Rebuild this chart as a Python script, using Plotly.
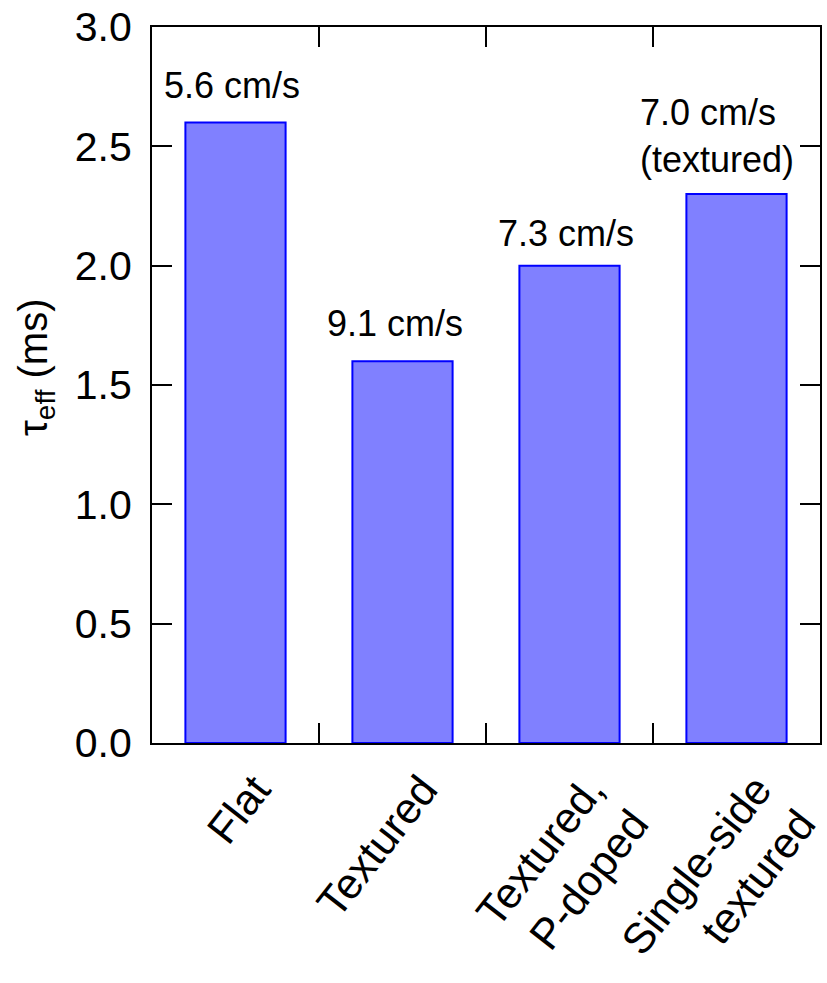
import plotly.graph_objects as go

categories = ["Flat", "Textured", "Textured,<br>P-doped", "Single-side<br>textured"]
tau_eff_ms = [2.6, 1.6, 2.0, 2.3]
srv_labels = ["5.6 cm/s", "9.1 cm/s", "7.3 cm/s", "7.0 cm/s<br>(textured)"]
y_ticks = [0.0, 0.5, 1.0, 1.5, 2.0, 2.5, 3.0]
y_title = "τ<sub>eff</sub> (ms)"

FONT = "Arial, 'Liberation Sans', sans-serif"

# label offsets (px) above bar tops, and horizontal nudges
label_yshift = [37, 38, 32, 58]
label_xshift = [-4, -8, -4, -20]
label_align = ["center", "center", "center", "left"]

fig = go.Figure()
fig.add_trace(go.Bar(
    x=categories, y=tau_eff_ms,
    marker=dict(color="#8080ff", line=dict(color="#0000ff", width=2)),
    width=0.6,
))

for c, v, t, ys, xs, al in zip(categories, tau_eff_ms, srv_labels, label_yshift, label_xshift, label_align):
    fig.add_annotation(x=c, y=v, text=t, showarrow=False, yanchor="middle",
                       yshift=ys, xshift=xs, align=al,
                       font=dict(family=FONT, size=36, color="black"))

# y-axis title as a rotated annotation (sits slightly above the plot centre)
fig.add_annotation(xref="paper", yref="paper", x=0, y=0.5, text=y_title,
                   textangle=-90, showarrow=False, xanchor="center", yanchor="middle",
                   xshift=-116, yshift=18,
                   font=dict(family=FONT, size=40, color="black"))

fig.update_layout(
    width=827, height=983,
    margin=dict(l=152, r=7, t=27, b=240),
    plot_bgcolor="white", paper_bgcolor="white",
    showlegend=False,
    font=dict(family=FONT, color="black"),
)
fig.update_xaxes(
    automargin=False, ticklabeloverflow="allow",
    showline=True, linecolor="black", linewidth=2, mirror="ticks",
    ticks="inside", ticklen=20, tickwidth=2, tickcolor="black",
    tickson="boundaries", tickangle=-52,
    ticklabelstandoff=2, ticklabelshift=20,
    tickfont=dict(family=FONT, size=43, color="black"),
    showgrid=False,
)
fig.update_yaxes(
    automargin=False, ticklabeloverflow="allow",
    range=[0, 3], tickvals=y_ticks, ticktext=[f"{v:.1f}" for v in y_ticks],
    showline=True, linecolor="black", linewidth=2, mirror="ticks",
    ticks="inside", ticklen=20, tickwidth=2, tickcolor="black",
    ticklabelstandoff=10,
    tickfont=dict(family=FONT, size=41, color="black"),
    showgrid=False, zeroline=False,
)

# remove the browser's default 8px body margin so the figure sits at the window origin
fig.write_html("out.html", config={"displayModeBar": False},
               post_script="document.body.style.margin='0';document.body.style.overflow='hidden';")
